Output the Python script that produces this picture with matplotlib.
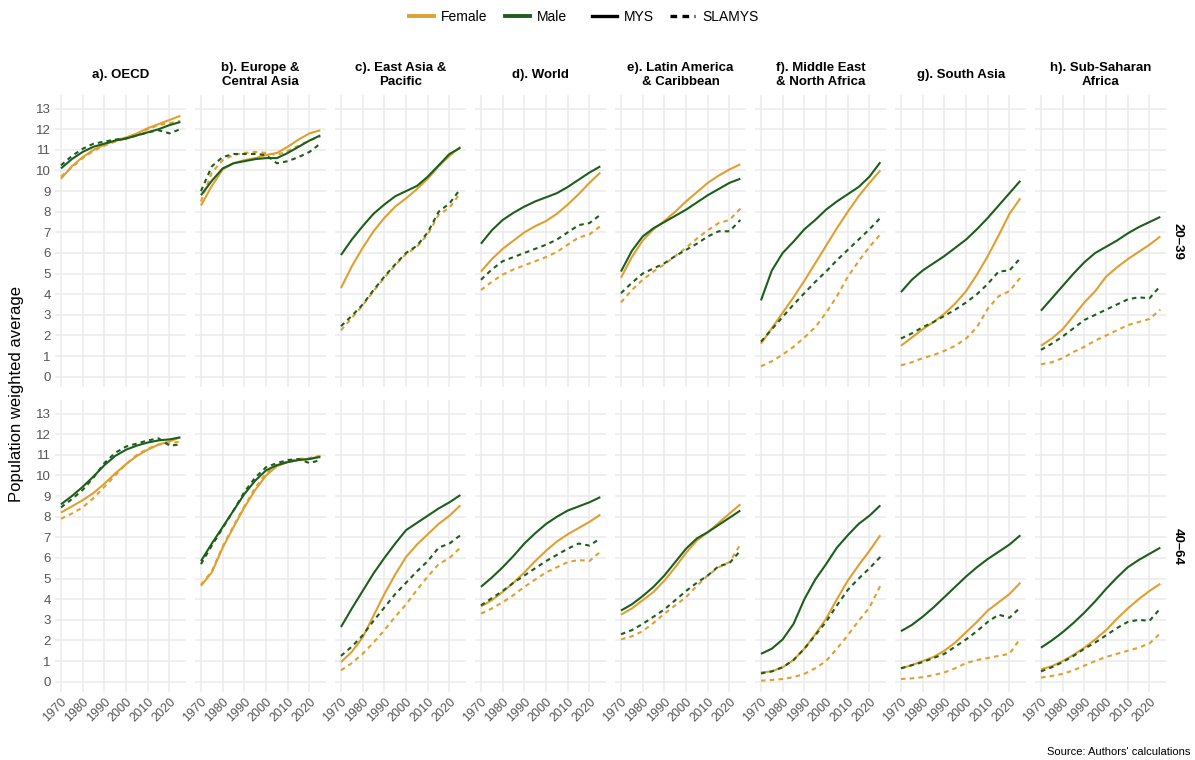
import numpy as np
import matplotlib.pyplot as plt
from matplotlib.lines import Line2D

plt.rcParams['font.family'] = ['Liberation Sans', 'DejaVu Sans']

years = [1970, 1975, 1980, 1985, 1990, 1995, 2000, 2005, 2010, 2015, 2020, 2025]

regions = ['a). OECD', 'b). Europe &\nCentral Asia', 'c). East Asia &\nPacific', 'd). World',
           'e). Latin America\n& Caribbean', 'f). Middle East\n& North Africa', 'g). South Asia',
           'h). Sub-Saharan\nAfrica']
ages = ['20–39', '40–64']

# ages 20-39, one row per region (a..h)
female_mys_20_39 = [
    [9.6, 10.2, 10.65, 11.0, 11.25, 11.45, 11.6, 11.8, 12.05, 12.25, 12.45, 12.65],
    [8.3, 9.25, 10.05, 10.35, 10.5, 10.6, 10.75, 10.85, 11.15, 11.5, 11.8, 11.95],
    [4.3, 5.35, 6.25, 7.05, 7.7, 8.25, 8.65, 9.1, 9.6, 10.2, 10.7, 11.15],
    [5.1, 5.7, 6.2, 6.6, 7.0, 7.3, 7.55, 7.9, 8.35, 8.85, 9.4, 9.9],
    [4.8, 5.8, 6.6, 7.15, 7.55, 8.0, 8.5, 8.95, 9.4, 9.75, 10.05, 10.3],
    [1.6, 2.35, 3.1, 3.85, 4.65, 5.5, 6.35, 7.2, 8.0, 8.75, 9.4, 10.0],
    [1.5, 1.9, 2.3, 2.65, 3.05, 3.55, 4.15, 4.95, 5.85, 6.85, 7.9, 8.65],
    [1.5, 1.85, 2.3, 2.95, 3.6, 4.15, 4.85, 5.3, 5.7, 6.05, 6.4, 6.8],
]
male_mys_20_39 = [
    [10.1, 10.55, 10.9, 11.15, 11.3, 11.45, 11.55, 11.7, 11.85, 12.0, 12.2, 12.35],
    [8.8, 9.5, 10.1, 10.35, 10.45, 10.55, 10.6, 10.6, 10.85, 11.15, 11.45, 11.7],
    [5.9, 6.65, 7.3, 7.9, 8.35, 8.75, 9.0, 9.25, 9.7, 10.25, 10.8, 11.1],
    [6.45, 7.1, 7.6, 7.95, 8.25, 8.5, 8.7, 8.9, 9.2, 9.55, 9.9, 10.2],
    [5.1, 6.1, 6.8, 7.2, 7.5, 7.8, 8.1, 8.45, 8.8, 9.1, 9.4, 9.6],
    [3.7, 5.15, 6.0, 6.55, 7.15, 7.6, 8.1, 8.5, 8.85, 9.2, 9.7, 10.4],
    [4.1, 4.7, 5.15, 5.5, 5.85, 6.25, 6.65, 7.15, 7.7, 8.3, 8.9, 9.5],
    [3.2, 3.8, 4.4, 5.0, 5.55, 6.0, 6.3, 6.6, 6.95, 7.25, 7.5, 7.75],
]
female_slamys_20_39 = [
    [9.7, 10.15, 10.6, 10.95, 11.2, 11.4, 11.55, 11.75, 12.0, 12.2, 12.3, 12.4],
    [8.5, 9.9, 10.5, 10.75, 10.85, 10.9, 10.85, 10.75, 10.95, 11.2, 11.45, 11.65],
    [2.25, 2.85, 3.45, 4.15, 4.8, 5.4, 5.95, 6.3, 6.9, 7.85, 8.2, 8.9],
    [4.2, 4.6, 4.95, 5.2, 5.4, 5.6, 5.8, 6.05, 6.4, 6.75, 6.9, 7.3],
    [3.6, 4.2, 4.7, 5.1, 5.45, 5.85, 6.25, 6.7, 7.1, 7.45, 7.6, 8.15],
    [0.5, 0.75, 1.07, 1.45, 1.9, 2.4, 3.1, 3.9, 4.85, 5.6, 6.3, 6.9],
    [0.55, 0.7, 0.9, 1.05, 1.25, 1.5, 1.85, 2.4, 3.3, 3.9, 4.15, 4.8],
    [0.6, 0.7, 0.9, 1.2, 1.45, 1.75, 2.0, 2.25, 2.5, 2.65, 2.8, 3.25],
]
male_slamys_20_39 = [
    [10.25, 10.7, 11.05, 11.3, 11.4, 11.5, 11.55, 11.7, 11.85, 11.95, 11.8, 12.0],
    [9.0, 10.2, 10.65, 10.8, 10.8, 10.8, 10.75, 10.35, 10.45, 10.65, 10.9, 11.3],
    [2.45, 2.95, 3.5, 4.2, 4.85, 5.45, 6.0, 6.35, 7.0, 8.0, 8.4, 9.1],
    [4.7, 5.2, 5.6, 5.8, 6.0, 6.2, 6.4, 6.65, 7.0, 7.35, 7.45, 7.85],
    [4.05, 4.55, 5.0, 5.25, 5.5, 5.85, 6.15, 6.45, 6.8, 7.05, 7.05, 7.6],
    [1.7, 2.3, 2.9, 3.5, 4.05, 4.6, 5.1, 5.65, 6.15, 6.65, 7.15, 7.7],
    [1.85, 2.1, 2.4, 2.65, 2.95, 3.25, 3.6, 4.0, 4.5, 5.1, 5.15, 5.75],
    [1.3, 1.6, 1.95, 2.35, 2.75, 3.0, 3.25, 3.5, 3.75, 3.85, 3.8, 4.4],
]

# ages 40-64
female_mys_40_64 = [
    [8.2, 8.5, 8.8, 9.15, 9.6, 10.1, 10.55, 10.95, 11.25, 11.5, 11.65, 11.85],
    [4.65, 5.3, 6.5, 7.5, 8.45, 9.3, 10.0, 10.45, 10.65, 10.75, 10.8, 10.95],
    [0.95, 1.45, 2.15, 3.2, 4.25, 5.2, 6.05, 6.65, 7.15, 7.65, 8.05, 8.55],
    [3.65, 3.95, 4.35, 4.8, 5.3, 5.85, 6.35, 6.8, 7.15, 7.45, 7.75, 8.1],
    [3.25, 3.55, 3.95, 4.35, 4.9, 5.55, 6.25, 6.85, 7.25, 7.7, 8.15, 8.6],
    [0.45, 0.5, 0.7, 1.05, 1.6, 2.3, 3.05, 4.0, 4.9, 5.65, 6.35, 7.1],
    [0.65, 0.8, 1.0, 1.2, 1.5, 1.9, 2.4, 2.9, 3.45, 3.85, 4.25, 4.8],
    [0.6, 0.75, 1.0, 1.3, 1.65, 2.05, 2.5, 3.05, 3.55, 4.0, 4.4, 4.75],
]
male_mys_40_64 = [
    [8.6, 9.0, 9.45, 9.95, 10.5, 10.95, 11.25, 11.45, 11.6, 11.7, 11.75, 11.85],
    [5.85, 6.7, 7.5, 8.3, 9.1, 9.75, 10.25, 10.5, 10.65, 10.75, 10.8, 10.9],
    [2.65, 3.55, 4.4, 5.25, 6.0, 6.7, 7.35, 7.7, 8.05, 8.4, 8.7, 9.05],
    [4.6, 5.05, 5.55, 6.1, 6.7, 7.2, 7.65, 8.0, 8.3, 8.5, 8.7, 8.95],
    [3.45, 3.75, 4.15, 4.6, 5.15, 5.8, 6.45, 6.95, 7.25, 7.6, 7.95, 8.3],
    [1.35, 1.6, 2.05, 2.8, 4.0, 4.95, 5.7, 6.5, 7.1, 7.65, 8.05, 8.55],
    [2.45, 2.75, 3.15, 3.6, 4.1, 4.6, 5.1, 5.55, 5.95, 6.3, 6.65, 7.1],
    [1.65, 2.0, 2.4, 2.85, 3.35, 3.9, 4.5, 5.05, 5.55, 5.9, 6.2, 6.5],
]
female_slamys_40_64 = [
    [7.9, 8.15, 8.45, 8.9, 9.45, 10.0, 10.55, 11.0, 11.3, 11.5, 11.55, 11.65],
    [4.7, 5.35, 6.55, 7.55, 8.5, 9.4, 10.1, 10.5, 10.7, 10.8, 10.85, 10.95],
    [0.55, 0.9, 1.35, 1.9, 2.5, 3.15, 3.75, 4.45, 5.1, 5.7, 6.0, 6.5],
    [3.3, 3.55, 3.85, 4.2, 4.6, 4.95, 5.3, 5.55, 5.8, 5.9, 5.85, 6.3],
    [2.05, 2.2, 2.45, 2.85, 3.3, 3.7, 4.1, 4.65, 5.15, 5.55, 5.8, 6.65],
    [0.05, 0.08, 0.13, 0.22, 0.38, 0.65, 1.0, 1.6, 2.25, 2.95, 3.6, 4.65],
    [0.13, 0.16, 0.22, 0.32, 0.45, 0.65, 0.9, 1.05, 1.15, 1.25, 1.35, 2.1],
    [0.2, 0.28, 0.38, 0.55, 0.78, 1.0, 1.2, 1.35, 1.5, 1.65, 1.85, 2.35],
]
male_slamys_40_64 = [
    [8.45, 8.85, 9.3, 9.9, 10.6, 11.1, 11.4, 11.55, 11.7, 11.8, 11.45, 11.5],
    [5.7, 6.6, 7.45, 8.3, 9.2, 9.9, 10.4, 10.6, 10.75, 10.8, 10.6, 10.75],
    [1.25, 1.7, 2.25, 2.95, 3.6, 4.25, 4.8, 5.35, 5.85, 6.5, 6.7, 7.1],
    [3.7, 4.05, 4.4, 4.8, 5.15, 5.5, 5.85, 6.15, 6.45, 6.7, 6.6, 6.95],
    [2.3, 2.5, 2.8, 3.15, 3.5, 3.95, 4.4, 4.8, 5.15, 5.6, 5.75, 6.35],
    [0.4, 0.5, 0.7, 1.05, 1.6, 2.25, 2.9, 3.7, 4.45, 5.0, 5.5, 6.05],
    [0.65, 0.8, 0.95, 1.15, 1.35, 1.7, 2.05, 2.45, 2.9, 3.25, 3.1, 3.6],
    [0.5, 0.7, 0.95, 1.25, 1.6, 1.9, 2.25, 2.6, 2.9, 3.0, 2.95, 3.55],
]

rows = [
    (female_mys_20_39, male_mys_20_39, female_slamys_20_39, male_slamys_20_39),
    (female_mys_40_64, male_mys_40_64, female_slamys_40_64, male_slamys_40_64),
]

c_female = '#DFA030'
c_male = '#1D5E1D'
lw = 1.5
dash = (0, (2.2, 2.0))

W, H = 1195, 760
fig = plt.figure(figsize=(W / 100, H / 100), dpi=100)


def add_axes_px(left, top, w, h):
    return fig.add_axes([left / W, 1 - (top + h) / H, w / W, h / H])


panel_w, panel_h = 131.3, 292
lefts = [55 + 140 * i for i in range(8)]
tops = [95, 400]

for r, (f_mys, m_mys, f_sla, m_sla) in enumerate(rows):
    for c in range(8):
        ax = add_axes_px(lefts[c], tops[r], panel_w, panel_h)
        ax.set_xlim(1967.25, 2027.75)
        ax.set_ylim(-0.5, 13.66)
        ax.set_xticks(range(1970, 2030, 10))
        ax.set_yticks(range(0, 14))
        ax.grid(True, color='#EBEBEB', lw=1.1)
        ax.set_axisbelow(True)
        for s in ax.spines.values():
            s.set_visible(False)
        ax.tick_params(length=0, labelcolor='#555555', pad=3)
        ax.tick_params(axis='y', labelsize=9.5)
        ax.tick_params(axis='x', labelsize=9)

        ax.plot(years, f_mys[c], color=c_female, lw=lw, solid_capstyle='butt')
        ax.plot(years, f_sla[c], color=c_female, lw=lw, linestyle=dash)
        ax.plot(years, m_mys[c], color=c_male, lw=lw, solid_capstyle='butt')
        ax.plot(years, m_sla[c], color=c_male, lw=lw, linestyle=dash)

        if c > 0:
            ax.tick_params(labelleft=False)
        if r == 0:
            ax.tick_params(labelbottom=False)
            ax.text(0.5, 1 + 20 / panel_h, regions[c], transform=ax.transAxes,
                    ha='center', va='center', fontsize=9.5, fontweight='bold',
                    linespacing=1.2)
        else:
            for lab in ax.get_xticklabels():
                lab.set_rotation(45)
                lab.set_ha('right')
                lab.set_rotation_mode('anchor')
        if c == 7:
            ax.text(1 + 11 / panel_w, 0.5, ages[r], transform=ax.transAxes,
                    rotation=270, ha='center', va='center', fontsize=9.5,
                    fontweight='bold')

fig.text(17 / W, 1 - 394 / H, 'Population weighted average', rotation=90,
         ha='center', va='center', fontsize=12)
fig.text(1190 / W, 1 - 752 / H, "Source: Authors' calculations", ha='right',
         va='center', fontsize=8)

# legends: colour (sex) and linetype (measure)
sex_handles = [Line2D([], [], color=c_female, lw=2.8), Line2D([], [], color=c_male, lw=2.8)]
fig.legend(sex_handles, ['Female', 'Male'], loc='center', ncol=2,
           bbox_to_anchor=(488 / W, 1 - 17 / H), frameon=False, fontsize=10,
           handlelength=1.8, handletextpad=0.5, columnspacing=1.2)
type_handles = [Line2D([], [], color='black', lw=2.4),
                Line2D([], [], color='black', lw=2.4, linestyle=(0, (2, 1.6)))]
fig.legend(type_handles, ['MYS', 'SLAMYS'], loc='center', ncol=2,
           bbox_to_anchor=(675 / W, 1 - 17 / H), frameon=False, fontsize=10,
           handlelength=1.8, handletextpad=0.5, columnspacing=1.2)

fig.savefig('out.png', dpi=100)
